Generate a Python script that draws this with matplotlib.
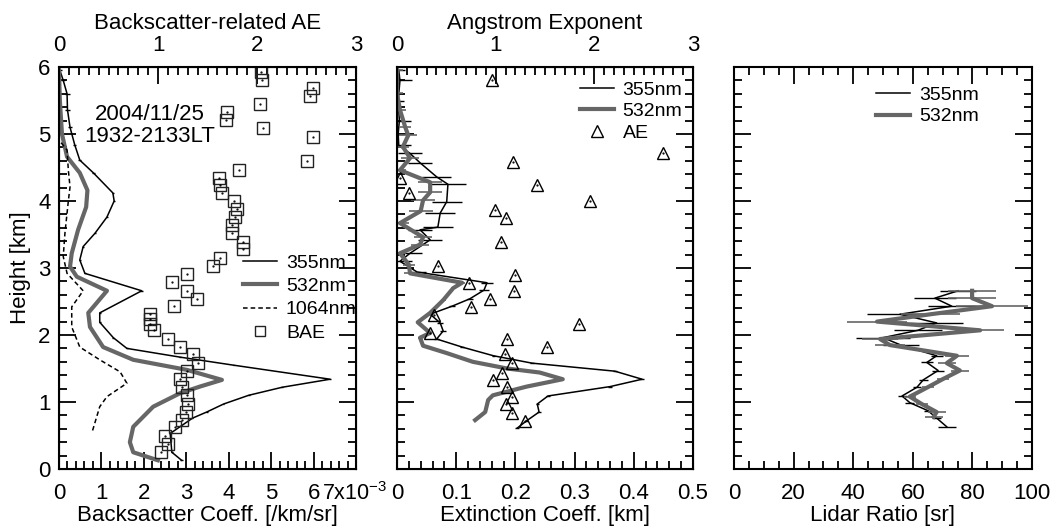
import matplotlib.pyplot as plt
import numpy as np
from matplotlib.ticker import MultipleLocator

plt.rcParams['font.family'] = ['Liberation Sans', 'DejaVu Sans']
plt.rcParams['font.size'] = 16
plt.rcParams['mathtext.fontset'] = 'custom'
plt.rcParams['mathtext.rm'] = 'Liberation Sans'

# ---- backscatter (x1e-3 /km/sr) ----
bsc355_h = [5.95, 5.8, 5.6, 5.36, 5.1, 4.84, 4.61, 4.42, 4.12, 4.0, 3.76, 3.52, 3.32, 3.12,
            2.92, 2.66, 2.33, 2.19, 1.96, 1.8, 1.67, 1.55, 1.34, 1.22, 1.1, 0.97, 0.85,
            0.76, 0.53, 0.25, 0.13]
bsc355 = [0.02, 0.1, 0.19, 0.2, 0.26, 0.37, 0.49, 0.81, 1.27, 1.3, 1.13, 0.85, 0.57, 0.49,
          0.61, 1.95, 0.96, 0.96, 1.28, 1.6, 2.85, 4.11, 6.39, 5.26, 4.47, 3.88, 3.48,
          3.15, 2.62, 2.66, 2.89]
bsc355_err = [0.05, 0.05, 0.06, 0.05, 0.05, 0.04, 0.04, 0.03, 0.03, 0.03, 0.03, 0.03, 0.03, 0.03,
              0.03, 0.03, 0.02, 0.02, 0.02, 0.02, 0.02, 0.02, 0.02, 0.02, 0.02, 0.02, 0.02,
              0.02, 0.02, 0.03, 0.03]

bsc532_h = [5.95, 5.5, 5.0, 4.66, 4.42, 4.16, 3.91, 3.57, 3.22, 3.02, 2.87, 2.66, 2.33, 2.12,
            1.82, 1.63, 1.48, 1.33, 1.23, 1.13, 0.93, 0.63, 0.4, 0.25, 0.13]
bsc532 = [0.0, 0.02, 0.07, 0.19, 0.49, 0.67, 0.64, 0.45, 0.3, 0.26, 0.42, 1.13, 0.69, 0.73,
          1.04, 1.75, 3.01, 3.84, 3.32, 2.85, 2.22, 1.75, 1.67, 1.75, 2.33]

bsc1064_h = [4.87, 4.76, 4.46, 4.21, 4.0, 3.52, 3.17, 2.92, 2.66, 2.42, 2.12, 1.82, 1.63,
             1.45, 1.28, 1.08, 0.93, 0.55]
bsc1064 = [0.05, 0.19, 0.22, 0.26, 0.22, 0.14, 0.1, 0.19, 0.57, 0.3, 0.3, 0.49, 0.96,
           1.44, 1.6, 1.13, 0.96, 0.78]

bae_h = [5.93, 5.81, 5.68, 5.57, 5.45, 5.33, 5.21, 5.09, 4.96, 4.6, 4.47, 4.35, 4.24, 4.12,
         4.0, 3.88, 3.76, 3.64, 3.52, 3.39, 3.28, 3.15, 3.03, 2.91, 2.79, 2.66, 2.54, 2.43,
         2.31, 2.24, 2.16, 2.07, 1.94, 1.82, 1.71, 1.58, 1.47, 1.35, 1.23, 1.11, 0.97, 0.85,
         0.73, 0.63, 0.5, 0.38, 0.25]
bae = [2.04, 2.05, 2.57, 2.54, 2.03, 1.7, 1.69, 2.06, 2.57, 2.5, 1.82, 1.62, 1.63, 1.65,
       1.77, 1.8, 1.78, 1.75, 1.75, 1.86, 1.86, 1.63, 1.56, 1.29, 1.14, 1.29, 1.39, 1.16,
       0.92, 0.92, 0.92, 0.96, 1.1, 1.22, 1.35, 1.4, 1.29, 1.22, 1.24, 1.29, 1.3, 1.28,
       1.24, 1.17, 1.07, 1.1, 1.03]

# ---- extinction (/km) ----
ext355_h = [5.95, 5.8, 5.5, 5.2, 5.0, 4.83, 4.71, 4.57, 4.36, 4.25, 3.99, 3.82, 3.61, 3.57,
            3.42, 3.22, 3.1, 2.94, 2.78, 2.67, 2.54, 2.43, 2.31, 2.18, 2.06, 1.94, 1.82,
            1.69, 1.58, 1.46, 1.34, 1.23, 1.09, 0.97, 0.85, 0.72, 0.61]
ext355 = [0.003, 0.005, 0.002, 0.004, 0.002, 0.003, 0.022, 0.039, 0.067, 0.086, 0.084, 0.073,
          0.069, 0.039, 0.056, 0.022, 0.005, 0.034, 0.152, 0.147, 0.123, 0.093, 0.056, 0.073,
          0.078, 0.067, 0.11, 0.163, 0.228, 0.368, 0.414, 0.36, 0.255, 0.237, 0.24, 0.219,
          0.203]
ext355_err = [0.01, 0.02, 0.01, 0.02, 0.01, 0.02, 0.02, 0.02, 0.025, 0.03, 0.025, 0.025,
              0.025, 0.02, 0.02, 0.02, 0.02, 0.015, 0.01, 0.008, 0.005, 0.005, 0.004, 0.005,
              0.005, 0.004, 0.003, 0.003, 0.003, 0.003, 0.003, 0.003, 0.003, 0.003, 0.003,
              0.003, 0.003]

ext532_h = [5.95, 5.61, 5.36, 5.1, 4.98, 4.81, 4.64, 4.46, 4.28, 4.13, 4.01, 3.85, 3.67,
            3.46, 3.35, 3.22, 3.05, 2.92, 2.78, 2.7, 2.52, 2.33, 2.19, 2.03, 1.96, 1.84,
            1.73, 1.6, 1.5, 1.44, 1.34, 1.23, 1.1, 1.03, 0.85, 0.73]
ext532 = [0.0, 0.0, 0.005, 0.014, 0.019, 0.01, 0.022, 0.005, 0.056, 0.056, 0.044, 0.04,
          0.005, 0.044, 0.039, 0.005, 0.02, 0.022, 0.11, 0.095, 0.078, 0.056, 0.035, 0.056,
          0.039, 0.044, 0.084, 0.128, 0.186, 0.241, 0.28, 0.219, 0.162, 0.154, 0.149, 0.132]
ext532_err = [0.01, 0.01, 0.01, 0.01, 0.015, 0.01, 0.015, 0.01, 0.02, 0.02, 0.02, 0.02,
              0.015, 0.015, 0.015, 0.01, 0.01, 0.01, 0.005, 0.004, 0.004, 0.003, 0.003,
              0.003, 0.003, 0.002, 0.002, 0.002, 0.002, 0.002, 0.002, 0.002, 0.002, 0.002,
              0.002, 0.002]

ae_h = [5.81, 4.71, 4.58, 4.34, 4.24, 4.12, 4.0, 3.86, 3.74, 3.39, 3.03, 2.9, 2.77, 2.65,
        2.53, 2.42, 2.3, 2.17, 2.03, 1.94, 1.82, 1.71, 1.58, 1.44, 1.33, 1.22, 1.08, 0.97,
        0.84, 0.72]
ae = [0.96, 2.7, 1.18, 0.03, 1.42, 0.12, 1.96, 0.99, 1.1, 1.05, 0.42, 1.2, 0.73, 1.19,
      0.94, 0.75, 0.37, 1.84, 0.33, 1.11, 1.52, 1.09, 1.17, 1.06, 0.97, 1.11, 1.17, 1.1,
      1.17, 1.3]

# ---- lidar ratio (sr) ----
lr355_h = [2.66, 2.55, 2.43, 2.31, 2.18, 2.07, 1.96, 1.85, 1.69, 1.59, 1.47, 1.33, 1.22,
           1.09, 0.99, 0.87, 0.76, 0.63]
lr355 = [75.2, 67.4, 73.1, 55.7, 68.0, 61.7, 50.0, 56.0, 68.0, 64.7, 68.5, 63.5, 61.4,
         56.4, 59.0, 65.1, 68.0, 71.4]
lr355_err = [6, 7, 8, 11, 9, 8, 9, 6, 2, 2, 2, 1.5, 1.5, 1.5, 1.5, 1.5, 1.5, 3]

lr532_h = [2.66, 2.55, 2.43, 2.31, 2.2, 2.07, 1.94, 1.85, 1.69, 1.58, 1.47, 1.34, 1.22,
           1.08, 0.97, 0.85, 0.78]
lr532 = [79.9, 79.9, 86.6, 66.0, 48.0, 82.6, 49.0, 52.3, 74.8, 71.4, 75.8, 70.0, 65.0,
         59.0, 63.0, 68.0, 67.0]
lr532_err = [8, 8, 12, 10, 10, 8, 6, 5, 4, 3, 3, 2, 2, 2, 2, 3, 3]

GRAY = '#666666'
fig = plt.figure(figsize=(10.54, 5.32), dpi=100)
W, H = 1054, 532
bot, hgt = 1 - 469 / H, 402 / H
ax1 = fig.add_axes([59 / W, bot, 297 / W, hgt])
ax2 = fig.add_axes([397 / W, bot, 296 / W, hgt])
ax3 = fig.add_axes([734 / W, bot, 298 / W, hgt])

leg_kw = dict(loc='upper left', frameon=False, fontsize=14, borderpad=0, borderaxespad=0,
              handlelength=1.75, handletextpad=0.45)


def style(ax, top=True):
    ax.tick_params(which='both', direction='in', right=True, top=top, width=1.3)
    ax.tick_params(which='major', length=12, pad=10)
    ax.tick_params(which='minor', length=6)
    ax.tick_params(axis='y', pad=6)
    for s in ax.spines.values():
        s.set_linewidth(1.5)
    ax.set_ylim(0, 6)
    ax.yaxis.set_major_locator(MultipleLocator(1))
    ax.yaxis.set_minor_locator(MultipleLocator(0.2))


def style_top(axt, title):
    axt.set_xlim(0, 3)
    axt.xaxis.set_major_locator(MultipleLocator(1))
    axt.xaxis.set_minor_locator(MultipleLocator(0.1))
    axt.tick_params(which='both', direction='in', width=1.3)
    axt.tick_params(which='major', length=12, pad=8)
    axt.tick_params(which='minor', length=6)
    axt.set_xlabel(title, labelpad=4)


# panel 1
style(ax1, top=False)
b355 = np.array(bsc355) * 1e-3
l355, = ax1.plot(b355, bsc355_h, color='black', lw=1.1, label='355nm')
ax1.errorbar(b355, bsc355_h, xerr=np.array(bsc355_err) * 1e-3, fmt='none',
             ecolor='black', elinewidth=1, capsize=0)
l532, = ax1.plot(np.array(bsc532) * 1e-3, bsc532_h, color=GRAY, lw=3, label='532nm')
l1064, = ax1.plot(np.array(bsc1064) * 1e-3, bsc1064_h, color='black', lw=1.1,
                  dashes=(3, 2), label='1064nm')
ax1.set_xlim(0, 7e-3)
ax1.xaxis.set_minor_locator(MultipleLocator(0.2e-3))
ax1.set_xticks(np.arange(8) * 1e-3)
ax1.set_xticklabels([str(i) for i in range(7)] + [''])
ax1.text(0.997, (469 - 500) / 402, '7x10$^{-3}$', transform=ax1.transAxes,
         ha='center', va='baseline', fontsize=15.5)
ax1.set_xlabel('Backsactter Coeff. [/km/sr]', labelpad=1)
ax1.set_ylabel('Height [km]', labelpad=5)
ax1.text(0.306, 0.881, '2004/11/25', transform=ax1.transAxes, ha='center', va='center')
ax1.text(0.306, 0.826, '1932-2133LT', transform=ax1.transAxes, ha='center', va='center')

ax1t = ax1.twiny()
style_top(ax1t, 'Backscatter-related AE')
lbae, = ax1t.plot(bae, bae_h, ls='none', marker='s', ms=8.5, mfc='none', mec='#222222',
                  mew=1, label='BAE')
ax1t.plot(bae, bae_h, ls='none', marker='.', ms=1.2, color='black')
ax1.set_ylim(0, 6)
ax1t.legend([l355, l532, l1064, lbae], ['355nm', '532nm', '1064nm', 'BAE'],
            bbox_to_anchor=(0.62, 0.535), markerscale=0.9, labelspacing=0.3, **leg_kw)

# panel 2
style(ax2, top=False)
ax2.set_yticklabels([])
e355, = ax2.plot(ext355, ext355_h, color='black', lw=1.1, label='355nm')
ax2.errorbar(ext355, ext355_h, xerr=ext355_err, fmt='none', ecolor='black',
             elinewidth=1, capsize=0)
e532, = ax2.plot(ext532, ext532_h, color=GRAY, lw=3, label='532nm')
ax2.errorbar(ext532, ext532_h, xerr=ext532_err, fmt='none', ecolor=GRAY,
             elinewidth=1.2, capsize=0)
ax2.set_xlim(0, 0.5)
ax2.xaxis.set_minor_locator(MultipleLocator(0.02))
ax2.set_xticks([0, 0.1, 0.2, 0.3, 0.4, 0.5])
ax2.set_xticklabels(['0', '0.1', '0.2', '0.3', '0.4', '0.5'])
ax2.set_xlabel('Extinction Coeff. [km]', labelpad=1)

ax2t = ax2.twiny()
style_top(ax2t, 'Angstrom Exponent')
lae, = ax2t.plot(ae, ae_h, ls='none', marker='^', ms=9, mfc='none', mec='black',
                 mew=1, label='AE')
ax2t.plot(ae, ae_h, ls='none', marker='.', ms=1.2, color='black')
ax2.set_ylim(0, 6)
ax2t.legend([e355, e532, lae], ['355nm', '532nm', 'AE'], bbox_to_anchor=(0.618, 0.965),
            markerscale=0.9, labelspacing=0.2, **leg_kw)

# panel 3
style(ax3, top=True)
ax3.set_yticklabels([])
r355, = ax3.plot(lr355, lr355_h, color='black', lw=1.1)
ax3.errorbar(lr355, lr355_h, xerr=lr355_err, fmt='none', ecolor='black',
             elinewidth=1, capsize=0)
r532, = ax3.plot(lr532, lr532_h, color=GRAY, lw=3)
ax3.errorbar(lr532, lr532_h, xerr=lr532_err, fmt='none', ecolor=GRAY,
             elinewidth=1.2, capsize=0)
ax3.set_xlim(0, 100)
ax3.xaxis.set_major_locator(MultipleLocator(20))
ax3.xaxis.set_minor_locator(MultipleLocator(5))
ax3.set_xlabel('Lidar Ratio [sr]', labelpad=1)
ax3.legend([r355, r532], ['355nm', '532nm'], bbox_to_anchor=(0.477, 0.952),
           labelspacing=0.2, **leg_kw)

fig.savefig('out.png', dpi=100)
